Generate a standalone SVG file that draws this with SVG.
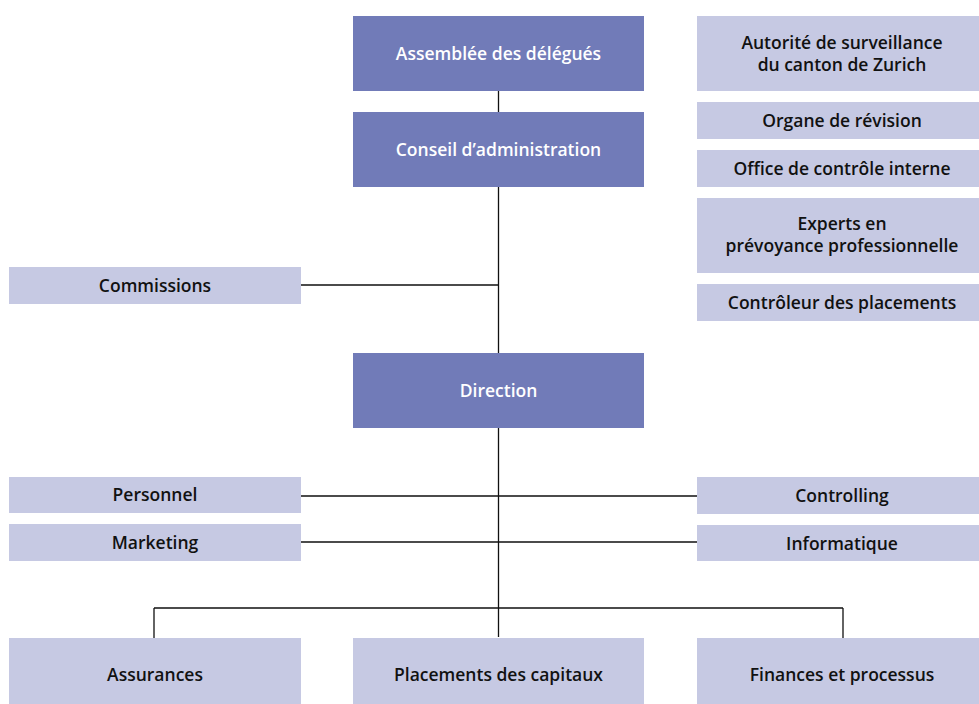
<svg xmlns="http://www.w3.org/2000/svg" width="979" height="704" viewBox="0 0 979 704">
<style>
.dark{fill:#717bb8}
.light{fill:#c6c9e3}
.t{font-family:"Open Sans","Liberation Sans",sans-serif;font-weight:600;font-size:17.5px;text-anchor:middle;dominant-baseline:central}
.tw{fill:#ffffff}
.tb{fill:#111111}
.ln{stroke:#111111;stroke-width:1.3;fill:none}
</style>
<rect width="979" height="704" fill="#ffffff"/>
<g id="connectors">
<path class="ln" d="M498.5 90V112M498.5 187V637M301 285H498.5M301 496H697M301 542H697M154 608H843M154 608V638M843 608V638"/>
</g>
<g id="assemblee"><rect class="dark" x="353" y="16" width="291" height="75"/><text class="t tw" x="498.5" y="53">Assemblée des délégués</text></g>
<g id="conseil"><rect class="dark" x="353" y="112" width="291" height="75"/><text class="t tw" x="498.5" y="149">Conseil d’administration</text></g>
<g id="autorite"><rect class="light" x="697" y="16" width="282" height="75"/><text class="t tb" x="842" y="42">Autorité de surveillance</text><text class="t tb" x="842" y="64">du canton de Zurich</text></g>
<g id="organe"><rect class="light" x="697" y="102" width="282" height="37"/><text class="t tb" x="842" y="120">Organe de révision</text></g>
<g id="office"><rect class="light" x="697" y="150" width="282" height="37"/><text class="t tb" x="842" y="168">Office de contrôle interne</text></g>
<g id="experts"><rect class="light" x="697" y="198" width="282" height="75"/><text class="t tb" x="842" y="223">Experts en</text><text class="t tb" x="842" y="245">prévoyance professionnelle</text></g>
<g id="controleur"><rect class="light" x="697" y="284" width="282" height="37"/><text class="t tb" x="842" y="302">Contrôleur des placements</text></g>
<g id="commissions"><rect class="light" x="9" y="267" width="292" height="37"/><text class="t tb" x="155" y="285">Commissions</text></g>
<g id="direction"><rect class="dark" x="353" y="353" width="291" height="75"/><text class="t tw" x="498.5" y="390">Direction</text></g>
<g id="personnel"><rect class="light" x="9" y="477" width="292" height="36"/><text class="t tb" x="155" y="494">Personnel</text></g>
<g id="marketing"><rect class="light" x="9" y="524" width="292" height="37"/><text class="t tb" x="155" y="542">Marketing</text></g>
<g id="controlling"><rect class="light" x="697" y="477" width="282" height="37"/><text class="t tb" x="842" y="495">Controlling</text></g>
<g id="informatique"><rect class="light" x="697" y="525" width="282" height="36"/><text class="t tb" x="842" y="543">Informatique</text></g>
<g id="assurances"><rect class="light" x="9" y="638" width="292" height="66"/><text class="t tb" x="155" y="674">Assurances</text></g>
<g id="placements"><rect class="light" x="353" y="638" width="291" height="66"/><text class="t tb" x="498.5" y="674">Placements des capitaux</text></g>
<g id="finances"><rect class="light" x="697" y="638" width="282" height="66"/><text class="t tb" x="842" y="674">Finances et processus</text></g>
</svg>
